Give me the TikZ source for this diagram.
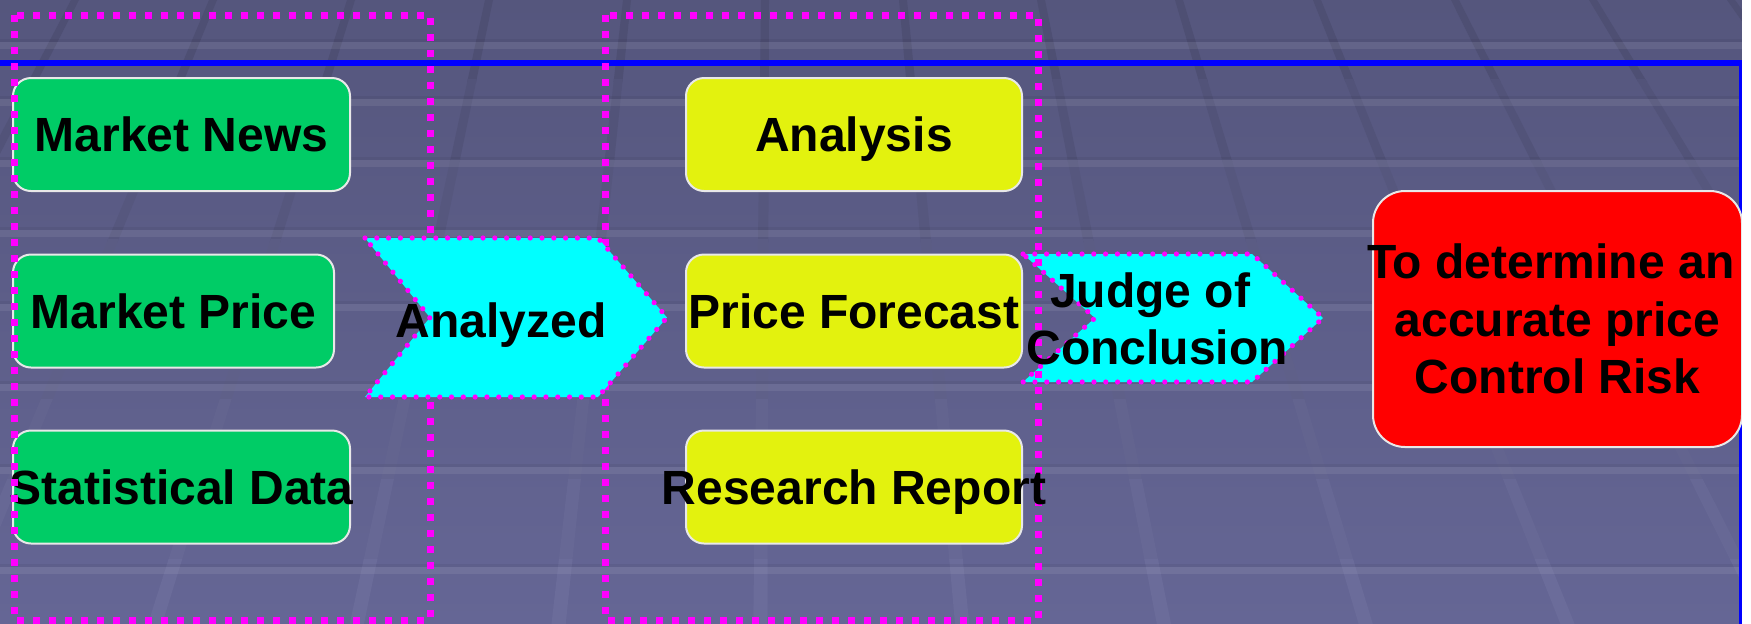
\documentclass[tikz,border=0pt]{standalone}
\usepackage{fontspec}
\setmainfont{Liberation Sans}
\newcommand\diagfont{\fontsize{24}{28.8}\selectfont\bfseries}
\definecolor{bgtop}{RGB}{85,86,125}
\definecolor{bgbot}{RGB}{101,102,149}
\definecolor{linetop}{RGB}{78,79,115}
\definecolor{linebot}{RGB}{108,109,155}
\definecolor{boxgreen}{RGB}{0,204,102}
\definecolor{boxyellow}{RGB}{227,242,14}
\definecolor{boxred}{RGB}{255,0,0}
\definecolor{boxline}{RGB}{232,232,232}
\definecolor{chevcyan}{RGB}{0,255,255}
\definecolor{dotmag}{RGB}{255,0,255}
\definecolor{frameblue}{RGB}{0,0,255}
\tikzset{
  boxbase/.style={draw=boxline, line width=1pt, rounded corners=9pt, inner sep=0pt,
    font=\diagfont, text height=17.2pt, text depth=0pt, minimum height=56.5pt},
  gbox/.style={boxbase, fill=boxgreen, minimum width=#1},
  ybox/.style={boxbase, fill=boxyellow, minimum width=168pt},
  groupframe/.style={draw=dotmag, line width=3.5pt, dash pattern=on 3.6pt off 4.4pt},
  chevron/.style={fill=chevcyan, draw=dotmag, line width=2.6pt, line cap=round,
    dash pattern=on 0pt off 5.9pt},
  chevtext/.style={font=\diagfont, inner sep=0pt, align=center},
}
\begin{document}
\begin{tikzpicture}[x=0.5pt,y=-0.5pt]
\useasboundingbox (0,0) rectangle (1751,623);
% background
\fill[top color=bgtop, bottom color=bgbot] (0,0) rectangle (1751,623);
\begin{scope}
\clip (0,0) rectangle (1751,623);
\foreach \i in {-1,...,13}{
  \pgfmathsetmacro\xo{75+138*\i}
  \pgfmathsetmacro\sl{(\xo-775)/1350}
  \foreach \j in {0,...,7}{
    \pgfmathsetmacro\ya{\j*80-1}
    \pgfmathsetmacro\yb{\j*80+82}
    \pgfmathsetmacro\xa{\xo+\sl*\ya}
    \pgfmathsetmacro\xb{\xo+\sl*\yb}
    \pgfmathsetmacro\wa{4+\ya/200}
    \pgfmathsetmacro\wb{4+\yb/200}
    \pgfmathtruncatemacro\mixp{100-\j*14}
    \fill[linetop!\mixp!linebot] (\xa-\wa,\ya) -- (\xa+\wa,\ya) -- (\xb+\wb,\yb) -- (\xb-\wb,\yb) -- cycle;
  }
}
\foreach \y in {45,102,163,233,307,387,470,570}{
  \fill[black, opacity=0.05] (0,\y-6) rectangle (1751,\y-3);
  \fill[white, opacity=0.08] (0,\y-3) rectangle (1751,\y+4);
}
\end{scope}
% blue frame
\draw[frameblue, line width=2.75pt] (-20,63) -- (1742,63) -- (1742,700);
% green boxes
\node[gbox=168.5pt] (news)  at (181.5,134.5) {\makebox[0pt]{Market News}};
\node[gbox=160.5pt] (price) at (173.5,311)   {\makebox[0pt]{Market Price}};
\node[gbox=168.5pt] (stat)  at (181.5,487)   {\makebox[0pt]{Statistical Data}};
% group frame 1
\draw[groupframe] (14,15) rectangle (430,620);
% chevron 2
\fill[chevron] (1023,254) -- (1252,254) -- (1323,318) -- (1252,382) -- (1023,382) -- (1095,318) -- cycle;
% group frame 2
\draw[groupframe] (605,15) rectangle (1038,620);
% chevron 1
\fill[chevron] (365,238) -- (598,238) -- (667,317.5) -- (598,397) -- (365,397) -- (430,317.5) -- cycle;
\node[chevtext, text height=17.2pt, text depth=0pt] (analyzed) at (501,320) {Analyzed};
\node[chevtext] (judge) at (1157,319) {Judge of\hspace*{0.28em}\\Conclusion};
% yellow boxes
\node[ybox] (analysis) at (854,134.5) {\makebox[0pt]{Analysis}};
\node[ybox] (forecast) at (854,311)   {\makebox[0pt]{Price Forecast}};
\node[ybox] (report)   at (854,487)   {\makebox[0pt]{Research Report}};
% red box
\node[draw=boxline, line width=1pt, rounded corners=16pt, fill=boxred, inner sep=0pt,
  minimum width=184.5pt, minimum height=128pt, font=\diagfont, align=center]
  (goal) at (1557.5,319) {\makebox[0pt]{To determine an\hspace*{0.28em}}\\accurate price\\Control Risk};
% white strip at the right edge
\fill[white] (1742,-5) rectangle (1756,630);
\end{tikzpicture}
\end{document}
